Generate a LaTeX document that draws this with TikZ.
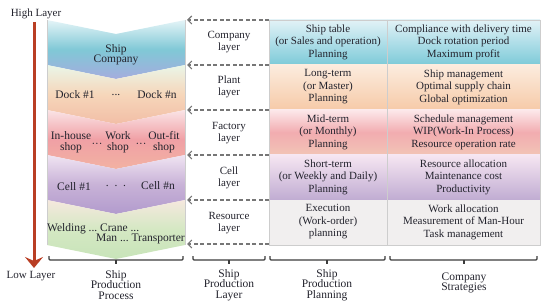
\documentclass[tikz,border=0pt]{standalone}
\usepackage{fontspec}
\setmainfont{Liberation Serif}
\usepackage{xcolor}
\usepackage{tikz}
\usetikzlibrary{arrows.meta}
\definecolor{figline}{RGB}{60,60,60}
\definecolor{figgrid}{RGB}{205,205,205}
\definecolor{figdash}{RGB}{118,118,118}
\definecolor{figlevel}{RGB}{185,62,36}
\definecolor{figtext}{RGB}{35,35,45}
\definecolor{figcomA}{RGB}{228,244,247}
\definecolor{figcomB}{RGB}{128,200,214}
\definecolor{figcomC}{RGB}{165,172,222}
\definecolor{figdockA}{RGB}{234,246,232}
\definecolor{figdockB}{RGB}{246,214,186}
\definecolor{figdockC}{RGB}{242,190,166}
\definecolor{figshopA}{RGB}{250,228,230}
\definecolor{figshopB}{RGB}{240,160,165}
\definecolor{figshopC}{RGB}{242,178,162}
\definecolor{figcellA}{RGB}{240,228,242}
\definecolor{figcellB}{RGB}{200,178,215}
\definecolor{figcellC}{RGB}{178,155,205}
\definecolor{figresA}{RGB}{245,232,222}
\definecolor{figresB}{RGB}{212,232,195}
\definecolor{figresC}{RGB}{200,228,185}
\definecolor{figrowA}{RGB}{226,242,246}
\definecolor{figrowB}{RGB}{175,222,232}
\definecolor{figrowC}{RGB}{125,202,216}
\definecolor{figrowD}{RGB}{252,236,222}
\definecolor{figrowE}{RGB}{246,202,168}
\definecolor{figrowF}{RGB}{252,232,234}
\definecolor{figrowG}{RGB}{242,172,176}
\definecolor{figrowH}{RGB}{242,196,182}
\definecolor{figrowI}{RGB}{246,230,242}
\definecolor{figrowJ}{RGB}{192,172,210}
\definecolor{figrowK}{RGB}{241,239,239}
\tikzset{
  txt/.style  ={font=\fontsize{11}{12.5}\selectfont, align=center, inner sep=0pt, text=figtext},
  txtt/.style ={font=\fontsize{11.5}{10.5}\selectfont, align=center, inner sep=0pt, text=figtext},
  ptr/.style  ={draw=figdash, line width=1.1pt, dash pattern=on 4pt off 2.5pt, -{Straight Barb[length=4pt,width=8pt]}},
  lvl/.style  ={draw=figlevel, line width=3pt, -{Stealth[length=11pt,width=18pt,inset=4pt]}},
  brk/.style  ={draw=figline, line width=1.2pt, rounded corners=1pt},
  cell/.style ={draw=figgrid, line width=0.5pt},
}
\begin{document}
\begin{tikzpicture}[x=1pt,y=-1pt]
  \useasboundingbox (0,0) rectangle (550,305);
  \shade[top color=figcomA, bottom color=figcomC, middle color=figcomB]
    (47,20) -- (116,34) -- (185,20) -- (185,65) -- (116,79) -- (47,65) -- cycle;
  \shade[top color=figdockA, bottom color=figdockC, middle color=figdockB]
    (47,65) -- (116,79) -- (185,65) -- (185,110) -- (116,124) -- (47,110) -- cycle;
  \shade[top color=figshopA, bottom color=figshopC, middle color=figshopB]
    (47,110) -- (116,124) -- (185,110) -- (185,155) -- (116,169) -- (47,155) -- cycle;
  \shade[top color=figcellA, bottom color=figcellC, middle color=figcellB]
    (47,155) -- (116,169) -- (185,155) -- (185,200) -- (116,214) -- (47,200) -- cycle;
  \shade[top color=figresA, bottom color=figresC, middle color=figresB]
    (47,200) -- (116,214) -- (185,200) -- (185,245) -- (116,259) -- (47,245) -- cycle;
  \draw[cell] (47,20) -- (47,245);
  \draw[cell] (185,20) -- (185,245);

  \shade[top color=figrowA, bottom color=figrowC, middle color=figrowB] (269,20) rectangle (540,65);
  \shade[top color=figrowD, bottom color=figrowE] (269,65) rectangle (540,110);
  \shade[top color=figrowF, bottom color=figrowH, middle color=figrowG] (269,110) rectangle (540,155);
  \shade[top color=figrowI, bottom color=figrowJ] (269,155) rectangle (540,200);
  \fill[figrowK] (269,200) rectangle (540,245);
  \draw[cell] (269,20) rectangle (540,245);
  \draw[cell] (387,20) -- (387,245);

  \node[txt] (high) at (36,14) {High Layer};
  \node[txt] (low) at (31,276) {Low Layer};
  \coordinate (hi) at (34,22);
  \coordinate (lo) at (34,268);
  \draw[lvl] (hi) -- (lo);

  \node[txtt] (ship) at (116,55) {Ship\\Company};
  \node[txtt] (dock1) at (75,95) {Dock \#1};
  \node[txtt] (dockdots) at (116,95) {...};
  \node[txtt] (dockn) at (157,95) {Dock \#n};
  \node[txtt] (shopin) at (71,142) {In-house\\shop};
  \node[txt] (shopdotsa) at (97,145) {···};
  \node[txtt] (shopwork) at (118,142) {Work\\shop};
  \node[txt] (shopdotsb) at (141,145) {···};
  \node[txtt] (shopout) at (164,142) {Out-fit\\shop};
  \node[txtt] (cell1) at (74,187) {Cell \#1};
  \node[txtt] (celldots) at (116,186) {.\ \ .\ \ .};
  \node[txtt] (celln) at (158,186) {Cell \#n};
  \node[txtt,anchor=west] (weld) at (47,229) {Welding\ ...\ Crane\ ...};
  \node[txtt,anchor=east] (man) at (185,239) {Man\ ...\ Transporter};

  \node[txt] (lcompany) at (229,42) {Company\\layer};
  \node[txt] (lplant) at (229,87) {Plant\\layer};
  \node[txt] (lfactory) at (229,133) {Factory\\layer};
  \node[txt] (lcell) at (229,178) {Cell\\layer};
  \node[txt] (lresource) at (229,223) {Resource\\layer};

  \coordinate (p0) at (269,20);  \coordinate (q0) at (187,20);
  \coordinate (p1) at (269,65);  \coordinate (q1) at (187,65);
  \coordinate (p2) at (269,110); \coordinate (q2) at (187,110);
  \coordinate (p3) at (269,155); \coordinate (q3) at (187,155);
  \coordinate (p4) at (269,200); \coordinate (q4) at (187,200);
  \coordinate (p5) at (269,244); \coordinate (q5) at (187,244);
  \draw[ptr] (p0) -- (q0);
  \draw[ptr] (p1) -- (q1);
  \draw[ptr] (p2) -- (q2);
  \draw[ptr] (p3) -- (q3);
  \draw[ptr] (p4) -- (q4);
  \draw[ptr] (p5) -- (q5);

  \node[txt] (plan1) at (328,42) {Ship table\\(or Sales and operation)\\Planning};
  \node[txt] (strat1) at (463.5,42) {Compliance with delivery time\\Dock rotation period\\Maximum profit};
  \node[txt] (plan2) at (328,87) {Long-term\\(or Master)\\Planning};
  \node[txt] (strat2) at (463.5,87) {Ship management\\Optimal supply chain\\Global optimization};
  \node[txt] (plan3) at (328,132) {Mid-term\\(or Monthly)\\Planning};
  \node[txt] (strat3) at (463.5,132) {Schedule management\\WIP(Work-In Process)\\Resource operation rate};
  \node[txt] (plan4) at (328,177) {Short-term\\(or Weekly and Daily)\\Planning};
  \node[txt] (strat4) at (463.5,177) {Resource allocation\\Maintenance cost\\Productivity};
  \node[txt] (plan5) at (328,222) {Execution\\(Work-order)\\planning};
  \node[txt] (strat5) at (463.5,222) {Work allocation\\Measurement of Man-Hour\\Task management};

  \draw[brk] (49,256) -- (49,260) -- (183,260) -- (183,256);
  \draw[brk] (116,260) -- (116,264);
  \node[txtt] (bprocess) at (116,285) {Ship\\Production\\Process};
  \draw[brk] (193,256) -- (193,260) -- (265,260) -- (265,256);
  \draw[brk] (229,260) -- (229,264);
  \node[txtt] (blayer) at (229,285) {Ship\\Production\\Layer};
  \draw[brk] (270,256) -- (270,260) -- (385,260) -- (385,256);
  \draw[brk] (327,260) -- (327,264);
  \node[txtt] (bplanning) at (327,285) {Ship\\Production\\Planning};
  \draw[brk] (390,256) -- (390,260) -- (537,260) -- (537,256);
  \draw[brk] (464,260) -- (464,264);
  \node[txtt] (bstrategy) at (464,283) {Company\\Strategies};
\end{tikzpicture}
\end{document}
